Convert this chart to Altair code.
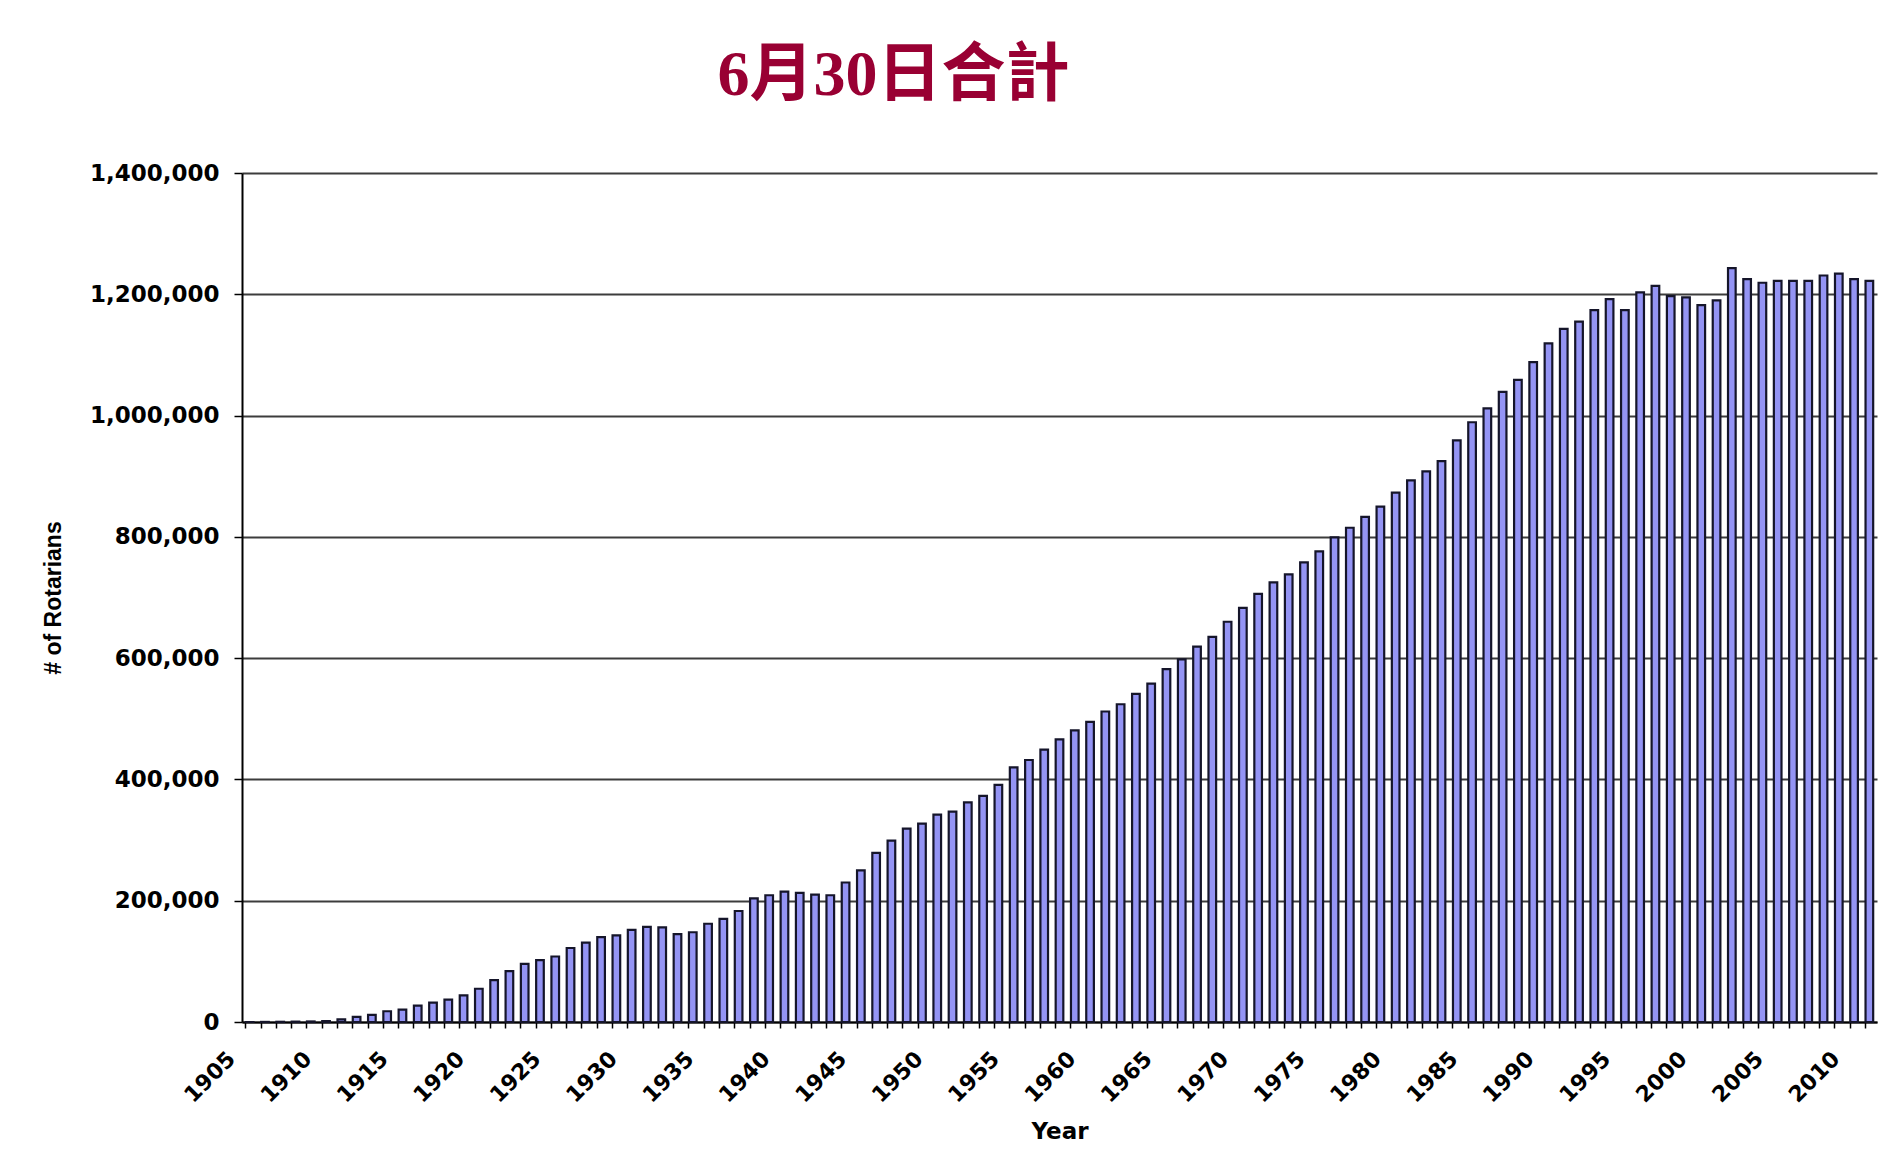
import altair as alt
import pandas as pd

# Categories: Rotary years (membership as of June 30)
first_year = 1905
last_year = 2011
years = list(range(first_year, last_year + 1))

# Number of Rotarians
members = [
    30, 150, 350, 600, 900, 1500,                                   # 1905-1910
    4400, 8300, 11600, 17700, 20500, 27000, 32000, 37000, 43800,    # 1911-1919
    54800, 69000, 84000, 96000, 102000, 108000, 122000, 131000,     # 1920-1927
    140000, 143000,                                                 # 1928-1929
    152000, 157000, 156000, 145000, 148000, 162000, 170000, 183000, # 1930-1937
    204000, 209000,                                                 # 1938-1939
    215000, 213000, 210000, 209000, 230000, 250000, 279000, 299000, # 1940-1947
    319000, 327000,                                                 # 1948-1949
    342000, 347000, 362000, 373000, 391000, 420000, 432000, 449000, # 1950-1957
    466000, 481000,                                                 # 1958-1959
    495000, 512000, 524000, 541000, 558000, 582000, 598000, 619000, # 1960-1967
    635000, 660000,                                                 # 1968-1969
    683000, 706000, 725000, 738000, 758000, 776000, 799000, 815000, # 1970-1977
    833000, 850000,                                                 # 1978-1979
    873000, 893000, 908000, 925000, 959000, 989000, 1012000, 1039000,  # 1980-1987
    1059000, 1088000,                                               # 1988-1989
    1119000, 1143000, 1155000, 1174000, 1192000, 1174000, 1203000,  # 1990-1996
    1214000, 1197000, 1195000,                                      # 1997-1999
    1182000, 1190000, 1243000, 1225000, 1219000, 1222000, 1222000,  # 2000-2006
    1222000, 1231000, 1234000, 1225000, 1222000,                    # 2007-2011
]
assert len(members) == len(years)

y_ticks = [0, 200000, 400000, 600000, 800000, 1000000, 1200000, 1400000]

title_text = "6月30日合計"
x_title = "Year"
y_title = "# of Rotarians"

df = pd.DataFrame({"year": years, "members": members})

PLOT_W = 1635
PLOT_H = 849

bars = alt.Chart(df).mark_bar(
    fill="#9494F4",
    stroke="#15152a",
    strokeWidth=2.2,
).encode(
    x=alt.X(
        "year:O",
        title=x_title,
        scale=alt.Scale(paddingInner=0.5, paddingOuter=0.25),
        axis=alt.Axis(
            bandPosition=0,
            labelExpr="datum.value % 5 == 0 ? datum.label : ''",
            labelOverlap=False,
            labelAngle=315,
            labelAlign="right",
            labelBaseline="middle",
            labelOffset=-18,
            labelPadding=27,
            labelFont="DejaVu Sans",
            labelFontWeight="bold",
            labelFontSize=22,
            labelColor="#000000",
            tickSize=6,
            tickColor="#000000",
            tickWidth=1.5,
            domainColor="#000000",
            domainWidth=2,
            grid=False,
            titleFont="DejaVu Sans",
            titleFontWeight="bold",
            titleFontSize=23,
            titleColor="#000000",
            titleX=PLOT_W / 2,
            titleY=109,
            titleAlign="center",
            titleBaseline="middle",
        ),
    ),
    y=alt.Y(
        "members:Q",
        title=y_title,
        scale=alt.Scale(domain=[0, 1400000], nice=False),
        axis=alt.Axis(
            values=y_ticks,
            format=",.0f",
            labelFont="DejaVu Sans",
            labelFontWeight="bold",
            labelFontSize=23,
            labelColor="#000000",
            labelPadding=15,
            tickSize=8,
            tickColor="#000000",
            tickWidth=1.5,
            domainColor="#000000",
            domainWidth=2,
            grid=True,
            gridColor="#3c3c3c",
            gridWidth=1.8,
            titleFont="Liberation Sans",
            titleFontWeight="bold",
            titleFontSize=23,
            titleColor="#000000",
            titleAngle=270,
            titleX=-189,
            titleY=PLOT_H / 2,
            titleAlign="center",
            titleBaseline="middle",
        ),
    ),
)

chart = bars.properties(
    width=PLOT_W,
    height=PLOT_H,
    title=alt.TitleParams(
        text=title_text,
        font="Liberation Serif, Noto Sans CJK TC",
        fontSize=64,
        fontWeight="bold",
        color="#990033",
        anchor="middle",
        dx=-166,
        offset=54,
    ),
    autosize=alt.AutoSizeParams(type="none"),
    padding={"left": 234, "top": 165, "right": 16, "bottom": 143},
    background="#ffffff",
).configure_view(
    stroke=None,
)

chart.save("out.html", embed_options={"renderer": "svg", "actions": False})
